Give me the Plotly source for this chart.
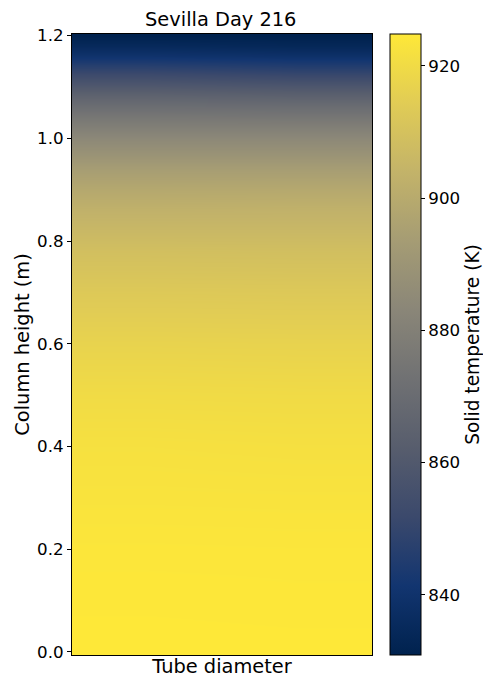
import plotly.graph_objects as go

# Data
heights = [0.00, 0.05, 0.10, 0.15, 0.20, 0.25, 0.30, 0.35, 0.40, 0.45, 0.50,
           0.55, 0.60, 0.65, 0.70, 0.74, 0.78, 0.82, 0.86, 0.90, 0.94, 0.97,
           1.00, 1.02, 1.04, 1.06, 1.08, 1.10, 1.12, 1.14, 1.16, 1.18, 1.20]
temp_left = [924.8, 924.7, 924.5, 924.3, 924.0, 923.5, 923.0, 922.5, 922.0, 921.0, 920.0,
             918.5, 917.0, 915.0, 913.0, 911.0, 909.0, 906.0, 903.0, 899.0, 894.0, 889.0,
             884.0, 880.0, 876.0, 871.0, 866.0, 860.0, 854.0, 847.0, 840.0, 835.0, 831.0]
temp_right = [924.8, 924.6, 924.4, 924.2, 923.9, 923.4, 922.9, 922.3, 921.7, 920.8, 919.8,
              918.3, 916.8, 914.8, 912.8, 910.8, 908.8, 906.0, 903.2, 899.2, 894.0, 889.0,
              884.0, 880.0, 875.5, 870.5, 865.0, 859.0, 852.5, 845.5, 839.0, 834.0, 831.0]
columns = [0, 1]
colorbar_ticks = [840, 860, 880, 900, 920]
y_ticks = [0.0, 0.2, 0.4, 0.6, 0.8, 1.0, 1.2]

z = [[a, b] for a, b in zip(temp_left, temp_right)]

FONT = "DejaVu Sans"
TICK = 16.7
LABEL = 19.4

fig = go.Figure(
    go.Heatmap(
        x=columns,
        y=heights,
        z=z,
        colorscale="Cividis",
        zmin=830.9,
        zmax=924.8,
        zsmooth="best",
        showscale=True,
        colorbar=dict(
            x=1.06,
            xanchor="left",
            xref="paper",
            xpad=0,
            ypad=0,
            y=0.5,
            yanchor="middle",
            len=1.0,
            lenmode="fraction",
            thickness=31,
            thicknessmode="pixels",
            outlinewidth=1,
            outlinecolor="black",
            tickvals=colorbar_ticks,
            ticks="outside",
            ticklen=4,
            tickcolor="black",
            tickfont=dict(family=FONT, size=TICK, color="black"),
            title=dict(text="Solid temperature (K)", side="right",
                       font=dict(family=FONT, size=18.6, color="black")),
        ),
    )
)

fig.update_layout(
    width=483,
    height=678,
    margin=dict(l=72, r=111, t=34, b=23, autoexpand=False),
    paper_bgcolor="white",
    plot_bgcolor="white",
    font=dict(family=FONT, color="black"),
    title=dict(text="Sevilla Day 216", x=0.457, xanchor="center",
               y=1 - 19 / 678, yanchor="middle", yref="container",
               font=dict(family=FONT, size=LABEL, color="black")),
    xaxis=dict(
        range=[-0.5, 1.5],
        showticklabels=False,
        ticks="",
        showgrid=False,
        zeroline=False,
        showline=True,
        mirror=True,
        linecolor="black",
        linewidth=1,
        title=dict(text="Tube diameter", standoff=5,
                   font=dict(family=FONT, size=LABEL, color="black")),
    ),
    yaxis=dict(
        range=[-0.006, 1.203],
        tickvals=y_ticks,
        tickformat=".1f",
        ticks="outside",
        ticklen=4,
        tickcolor="black",
        showgrid=False,
        zeroline=False,
        showline=True,
        mirror=True,
        linecolor="black",
        linewidth=1,
        tickfont=dict(family=FONT, size=TICK, color="black"),
        title=dict(text="Column height (m)", standoff=2,
                   font=dict(family=FONT, size=LABEL, color="black")),
    ),
)

fig.write_html("out.html")
